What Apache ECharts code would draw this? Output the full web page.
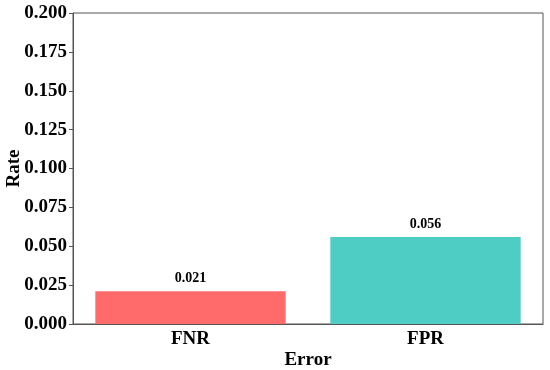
<!DOCTYPE html>
<html>
<head>
<meta charset="utf-8">
<script src="https://cdn.jsdelivr.net/npm/echarts@6/dist/echarts.min.js"></script>
<style>
  html, body { margin: 0; padding: 0; background: #fff; }
  #chart { width: 550px; height: 370px; }
</style>
</head>
<body>
<div id="chart"></div>
<script>
const categories = ['FNR', 'FPR']
const rates = [0.021, 0.056]
const barColors = ['#FF6B6B', '#4ECDC4']

const font = '"Liberation Serif", "Times New Roman", serif'
const axisColor = '#555'

const chart = echarts.init(document.getElementById('chart'))

chart.setOption({
  animation: false,
  grid: {
    left: 73,
    right: 7,
    top: 13,
    bottom: 46,
    outerBoundsMode: 'none',
    containLabel: false,
    show: true,
    borderColor: axisColor,
    borderWidth: 1
  },
  xAxis: {
    type: 'category',
    data: categories,
    name: 'Error',
    nameLocation: 'middle',
    nameGap: 27,
    nameMoveOverlap: false,
    nameTextStyle: { fontFamily: font, fontWeight: 'bold', fontSize: 19, color: '#000' },
    axisLine: { lineStyle: { color: axisColor } },
    axisTick: { alignWithLabel: true, length: 4, lineStyle: { color: axisColor } },
    axisLabel: { fontFamily: font, fontWeight: 'bold', fontSize: 19, color: '#000', margin: 6 }
  },
  yAxis: {
    type: 'value',
    min: 0,
    max: 0.2,
    interval: 0.025,
    name: 'Rate',
    nameLocation: 'middle',
    nameGap: 49,
    nameMoveOverlap: false,
    nameTextStyle: { fontFamily: font, fontWeight: 'bold', fontSize: 19, color: '#000' },
    axisLine: { show: true, lineStyle: { color: axisColor } },
    axisTick: { show: true, length: 4, lineStyle: { color: axisColor } },
    splitLine: { show: false },
    axisLabel: {
      fontFamily: font, fontWeight: 'bold', fontSize: 19, color: '#000', margin: 6,
      formatter: v => v.toFixed(3)
    }
  },
  series: [{
    type: 'bar',
    data: rates.map((v, i) => ({ value: v, itemStyle: { color: barColors[i] } })),
    barWidth: '81%',
    label: {
      show: true,
      position: 'top',
      distance: 6,
      fontFamily: font,
      fontWeight: 'bold',
      fontSize: 14,
      color: '#000',
      formatter: p => p.value.toFixed(3)
    }
  }]
})
</script>
</body>
</html>
